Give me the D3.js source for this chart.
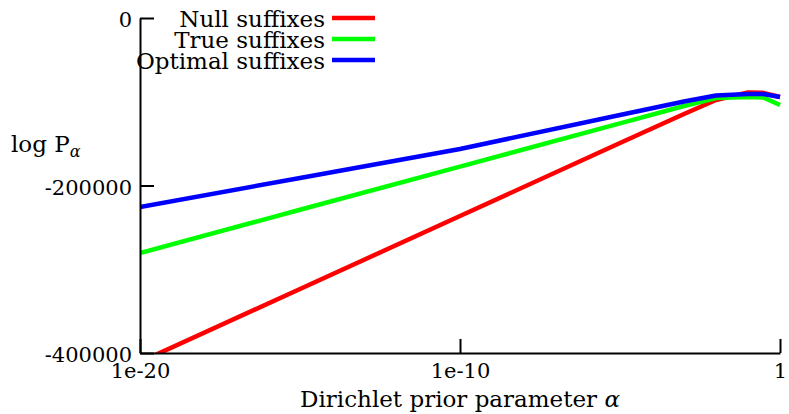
<!DOCTYPE html>
<html>
<head>
  <meta charset="utf-8">
  <script src="https://d3js.org/d3.v7.min.js"></script>
  <style>
    body { margin: 0; background: #fff; }
    svg { display: block; background-color: #fff; }
    text { font-family: "DejaVu Serif", "Liberation Serif", serif; fill: #000; }
    .axis path, .axis line { stroke: #000; stroke-width: 2px; }
  </style>
</head>
<body>
  <svg id="chart" width="789" height="414"></svg>

  <script>
    // prior parameter values (x) and log likelihood of each suffix model
    var alphas = [1e-20, 1e-15, 1e-10, 1e-5, 1e-3, 1e-2, 1e-1, 0.3, 1];
    var nullSuffixes    = [-410700, -323600, -236400, -149300, -114600, -97900, -88900, -89400, -94300];
    var trueSuffixes    = [-280600, -229000, -177400, -125800, -105100, -95500, -94300, -94900, -103900];
    var optimalSuffixes = [-225700, -191000, -156400, -115800, -99700, -92500, -90700, -90700, -94300];

    var seriesNames  = ["Null suffixes", "True suffixes", "Optimal suffixes"];
    var seriesColors = ["#ff0000", "#00ff00", "#0000ff"];
    var xTicks = [1e-20, 1e-10, 1];
    var xTickLabels = ["1e-20", "1e-10", "1"];
    var yTicks = [0, -200000, -400000];

    var svg = d3.select("#chart");
    var margin = {left: 140, right: 9, top: 18, bottom: 61};
    var width = 789 - margin.left - margin.right,
        height = 414 - margin.top - margin.bottom;

    var x = d3.scaleLog().domain([1e-20, 1]).range([0, width]);
    var y = d3.scaleLinear().domain([-400000, 0]).range([height, 0]);

    var g = svg.append("g")
      .attr("transform", "translate(" + margin.left + "," + margin.top + ")");

    g.append("clipPath").attr("id", "plotclip")
      .append("rect").attr("x", 0).attr("y", -10).attr("width", width + 10).attr("height", height + 10);

    // series lines
    var allSeries = [nullSuffixes, trueSuffixes, optimalSuffixes];
    var line = d3.line()
      .x(function (d, i) { return x(alphas[i]); })
      .y(function (d) { return y(d); });

    g.append("g").attr("clip-path", "url(#plotclip)")
      .selectAll("path")
      .data(allSeries)
      .enter()
      .append("path")
      .attr("d", line)
      .attr("fill", "none")
      .attr("stroke", function (d, i) { return seriesColors[i]; })
      .attr("stroke-width", 4.5)
      .attr("stroke-linejoin", "round");

    // axes, ticks pointing inward
    var xAxis = g.append("g")
      .attr("class", "axis")
      .attr("transform", "translate(0," + height + ")")
      .call(d3.axisBottom(x).tickValues(xTicks)
        .tickFormat(function (d, i) { return xTickLabels[i]; })
        .tickSizeInner(-14).tickSizeOuter(0).tickPadding(10));
    xAxis.selectAll("text").attr("font-size", 21).attr("font-family", null);

    var yAxis = g.append("g")
      .attr("class", "axis")
      .call(d3.axisLeft(y).tickValues(yTicks)
        .tickSizeInner(-14).tickSizeOuter(0).tickPadding(8));
    yAxis.selectAll("text").attr("font-size", 21).attr("font-family", null)
      .attr("dy", "0.42em")
      .text(function (d) { return String(d); });

    // axis titles
    svg.append("text")
      .attr("x", 460).attr("y", 407)
      .attr("text-anchor", "middle")
      .attr("font-size", 23)
      .html("Dirichlet prior parameter <tspan font-style='italic'>α</tspan>");

    var ylab = svg.append("text")
      .attr("x", 11).attr("y", 152)
      .attr("font-size", 23);
    ylab.append("tspan").text("log P");
    ylab.append("tspan").attr("font-size", 16).attr("dy", 5).attr("font-style", "italic").text("α");

    // legend
    var legend = svg.append("g").attr("transform", "translate(325,18)");
    var rows = legend.selectAll("g")
      .data(seriesNames)
      .enter()
      .append("g")
      .attr("transform", function (d, i) { return "translate(0," + (i * 21) + ")"; });
    rows.append("text")
      .attr("text-anchor", "end")
      .attr("dy", "0.38em")
      .attr("font-size", 23)
      .text(function (d) { return d; });
    rows.append("line")
      .attr("x1", 7).attr("x2", 50)
      .attr("stroke", function (d, i) { return seriesColors[i]; })
      .attr("stroke-width", 4.5);
  </script>
</body>
</html>
